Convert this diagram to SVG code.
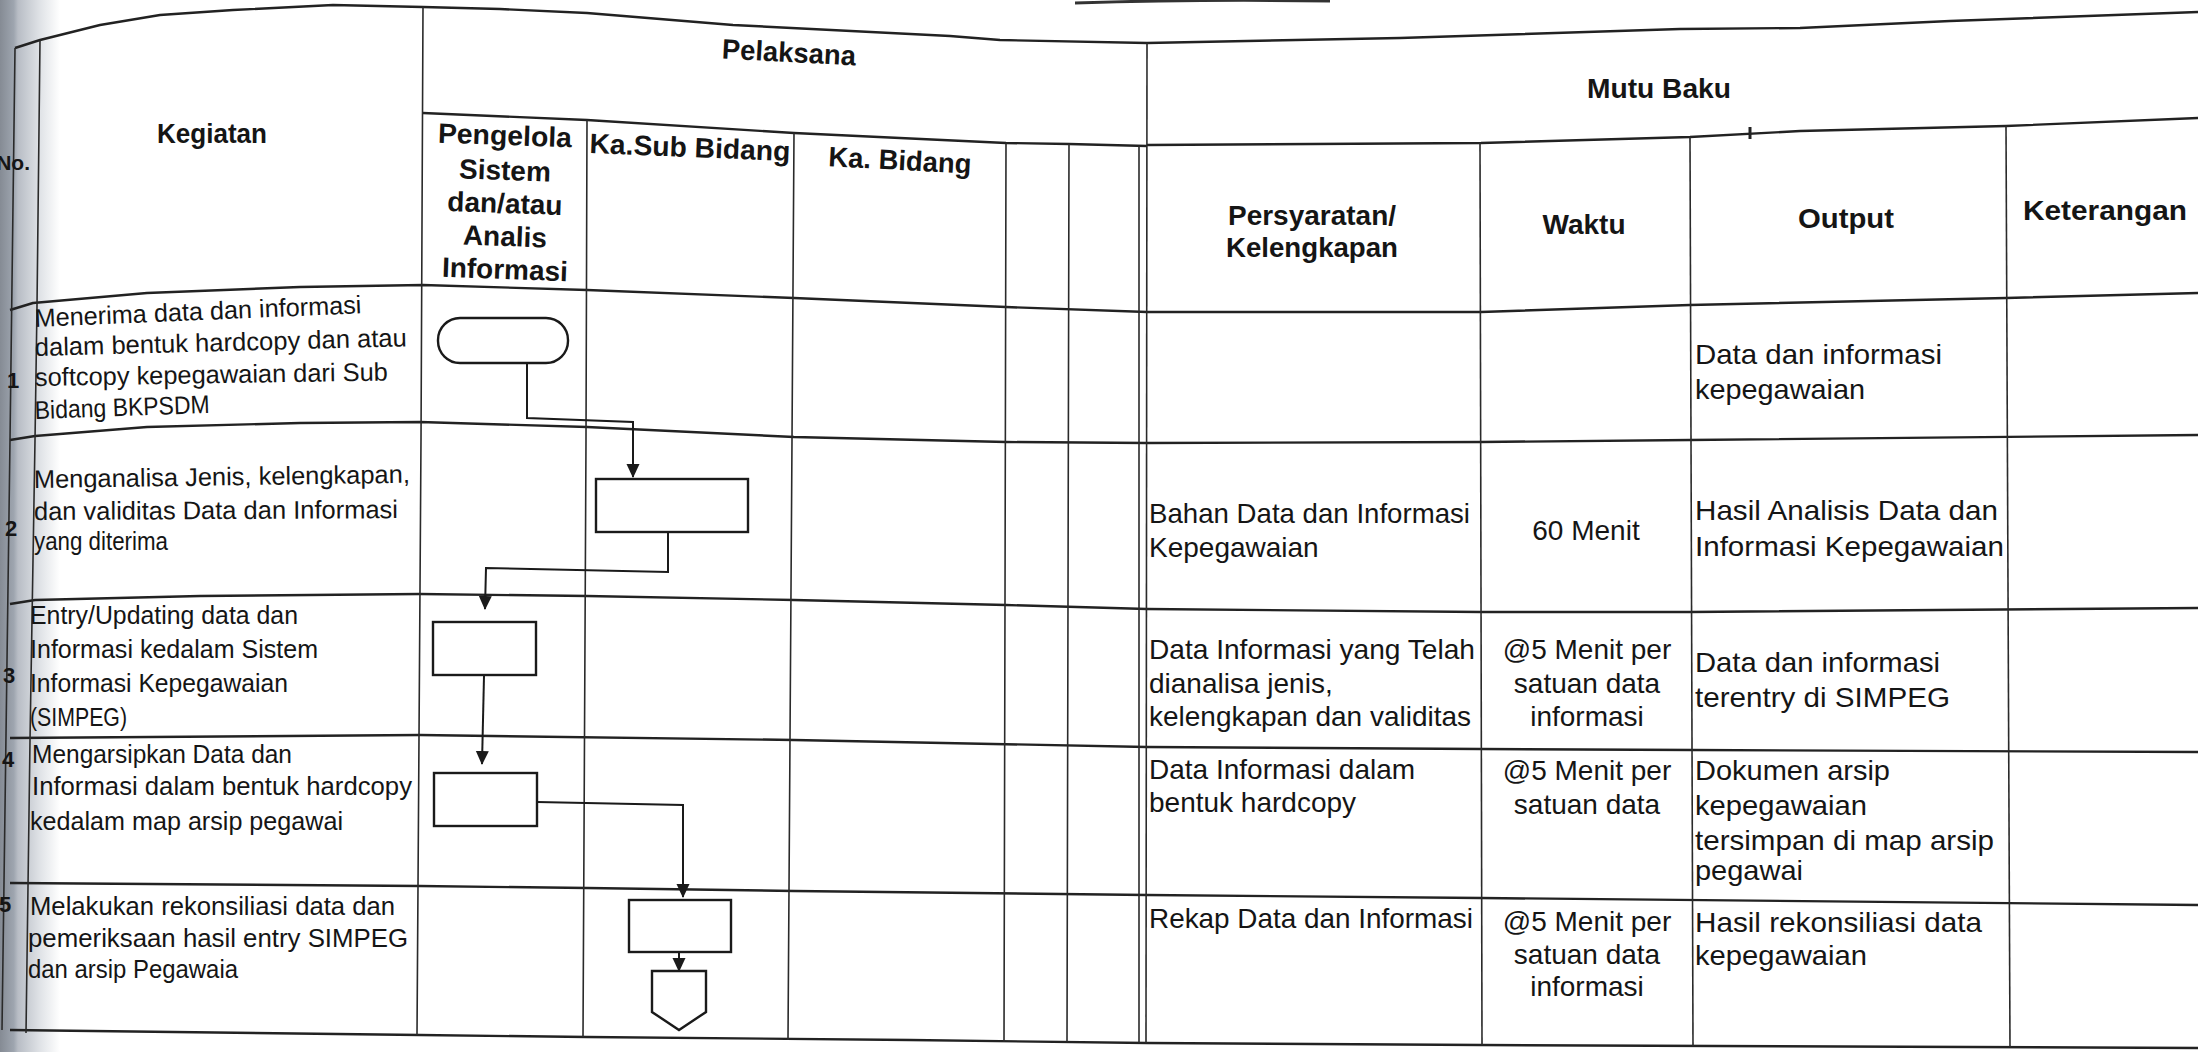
<svg xmlns="http://www.w3.org/2000/svg" width="2198" height="1052" viewBox="0 0 2198 1052">
<style>
.h{fill:none;stroke:#222;stroke-width:2.4;stroke-linejoin:round}
.v{fill:none;stroke:#2a2a2a;stroke-width:1.6;stroke-linejoin:round}
.shape{fill:#fff;stroke:#1a1a1a;stroke-width:2.4}
.conn{fill:none;stroke:#1a1a1a;stroke-width:2;marker-end:url(#ah)}
text{font-family:"Liberation Sans",Arial,sans-serif;fill:#151515}
.k{font-size:25.5px}
.r{font-size:28px}
.c{font-size:28px;text-anchor:middle}
.hd{font-size:28px;font-weight:bold;text-anchor:middle}
.num{font-size:22px;font-weight:bold}
</style>
<defs>
<linearGradient id="band" x1="0" y1="0" x2="60" y2="0" gradientUnits="userSpaceOnUse">
<stop offset="0" stop-color="#858b94"/>
<stop offset="0.23" stop-color="#9ea5af"/>
<stop offset="0.3" stop-color="#b8bdc5"/>
<stop offset="0.66" stop-color="#dfe2e6"/>
<stop offset="1" stop-color="#ffffff"/>
</linearGradient>
<marker id="ah" markerUnits="userSpaceOnUse" viewBox="0 0 14 14" markerWidth="14" markerHeight="14" refX="13" refY="7" orient="auto">
<path d="M0,0.5 L14,7 L0,13.5 z" fill="#1a1a1a"/>
</marker>
</defs>
<rect x="0" y="0" width="2198" height="1052" fill="#ffffff"/>
<rect x="0" y="0" width="60" height="1052" fill="url(#band)"/>
<path d="M1075,3 Q1200,-1 1330,1" fill="none" stroke="#333" stroke-width="3"/>

<g id="table">
<polyline class="h" points="15,48 40,40 100,25 160,15 233,10 333,5 423,7 500,9 587,13 733,25 950,36 1000,40 1147,43 1400,38 1680,29 1800,28 1950,21 2198,12"/>
<polyline class="h" points="423,113 587,120 794,133 1006,143 1069,144 1147,146"/>
<polyline class="h" points="1147,145 1481,143 1690,137 1800,131 2006,126 2198,118"/>
<path d="M1750,127 L1750,139" stroke="#222" stroke-width="3"/>
<polyline class="h" points="10,310 33,303 147,293 300,287 423,285 587,290 794,298 1006,307 1147,312 1481,312 1690,305 2006,298 2198,293"/>
<polyline class="h" points="10,440 35,436 147,427 300,423 420,422 587,427 794,437 1006,442 1147,443 1481,442 1690,440 2198,435"/>
<polyline class="h" points="10,604 35,600 200,596 420,594 587,596 794,600 1006,605 1147,609 1481,612 1690,612 2198,608"/>
<polyline class="h" points="10,738 420,735 794,740 1147,747 1481,749 1693,750 2198,752"/>
<polyline class="h" points="10,883 420,886 587,888 794,891 1147,895 1481,898 2198,905"/>
<polyline class="h" points="10,1030 420,1035 587,1037 910,1040 1147,1043 1481,1045 2198,1048"/>
<polyline class="v" points="15,48 10,440 2,1030"/>
<polyline class="v" points="40,40 37,306 35,440 30,740 26,1033"/>
<polyline class="v" points="423,7 421,440 417,1035"/>
<polyline class="v" points="587,120 586,440 583,1037"/>
<polyline class="v" points="794,133 792,440 788,1040"/>
<polyline class="v" points="1006,143 1005,600 1004,1042"/>
<polyline class="v" points="1069,144 1068,600 1067,1042"/>
<polyline class="v" points="1139,146 1139,1043"/>
<polyline class="v" points="1147,43 1146,1043"/>
<polyline class="v" points="1480,143 1482,1045"/>
<polyline class="v" points="1690,137 1693,1046"/>
<polyline class="v" points="2006,126 2010,1047"/>
</g>

<g id="headers">
<text class="hd" x="30" y="170" style="font-size:21px;text-anchor:end">No.</text>
<text class="hd" x="212" y="143" textLength="110" lengthAdjust="spacingAndGlyphs" style="font-size:27px">Kegiatan</text>
<text class="hd" x="789" y="62" textLength="134" lengthAdjust="spacingAndGlyphs" transform="rotate(3 789 52)">Pelaksana</text>
<text class="hd" x="505" y="145" textLength="134" lengthAdjust="spacingAndGlyphs" transform="rotate(2 505 135)">Pengelola</text>
<text class="hd" x="505" y="180" transform="rotate(2 505 170)">Sistem</text>
<text class="hd" x="505" y="213" transform="rotate(2 505 203)">dan/atau</text>
<text class="hd" x="505" y="246" transform="rotate(2 505 236)">Analis</text>
<text class="hd" x="505" y="279" transform="rotate(2 505 269)">Informasi</text>
<text class="hd" x="690" y="157" textLength="201" lengthAdjust="spacingAndGlyphs" transform="rotate(2.3 690 147)">Ka.Sub Bidang</text>
<text class="hd" x="900" y="170" textLength="143" lengthAdjust="spacingAndGlyphs" transform="rotate(3 900 160)">Ka. Bidang</text>
<text class="hd" x="1659" y="98" textLength="144" lengthAdjust="spacingAndGlyphs">Mutu Baku</text>
<text class="hd" x="1312" y="225" textLength="168" lengthAdjust="spacingAndGlyphs">Persyaratan/</text>
<text class="hd" x="1312" y="257" textLength="172" lengthAdjust="spacingAndGlyphs">Kelengkapan</text>
<text class="hd" x="1584" y="234" textLength="83" lengthAdjust="spacingAndGlyphs">Waktu</text>
<text class="hd" x="1846" y="228" textLength="96" lengthAdjust="spacingAndGlyphs">Output</text>
<text class="hd" x="2105" y="220" textLength="164" lengthAdjust="spacingAndGlyphs">Keterangan</text>
</g>

<g id="numbers">
<text class="num" x="7" y="388">1</text>
<text class="num" x="5" y="536">2</text>
<text class="num" x="3" y="683">3</text>
<text class="num" x="2" y="767">4</text>
<text class="num" x="-1" y="912">5</text>
</g>

<g id="kegiatan">
<text class="k" x="35" y="327" textLength="327" lengthAdjust="spacingAndGlyphs" transform="rotate(-2.4 35 327)">Menerima data dan informasi</text>
<text class="k" x="35" y="356" textLength="372" lengthAdjust="spacingAndGlyphs" transform="rotate(-1.5 35 356)">dalam bentuk hardcopy dan atau</text>
<text class="k" x="35" y="386" textLength="353" lengthAdjust="spacingAndGlyphs" transform="rotate(-0.9 35 386)">softcopy kepegawaian dari Sub</text>
<text class="k" x="35" y="419" textLength="175" lengthAdjust="spacingAndGlyphs" transform="rotate(-2 35 419)">Bidang BKPSDM</text>
<text class="k" x="34" y="488" textLength="376" lengthAdjust="spacingAndGlyphs" transform="rotate(-0.8 34 488)">Menganalisa Jenis, kelengkapan,</text>
<text class="k" x="34" y="520" textLength="364" lengthAdjust="spacingAndGlyphs" transform="rotate(-0.3 34 520)">dan validitas Data dan Informasi</text>
<text class="k" x="34" y="550" textLength="134" lengthAdjust="spacingAndGlyphs">yang diterima</text>
<text class="k" x="30" y="624" textLength="268" lengthAdjust="spacingAndGlyphs">Entry/Updating data dan</text>
<text class="k" x="30" y="658" textLength="288" lengthAdjust="spacingAndGlyphs">Informasi kedalam Sistem</text>
<text class="k" x="30" y="692" textLength="258" lengthAdjust="spacingAndGlyphs">Informasi Kepegawaian</text>
<text class="k" x="30" y="726" textLength="97" lengthAdjust="spacingAndGlyphs">(SIMPEG)</text>
<text class="k" x="32" y="763" textLength="260" lengthAdjust="spacingAndGlyphs">Mengarsipkan Data dan</text>
<text class="k" x="32" y="795" textLength="380" lengthAdjust="spacingAndGlyphs">Informasi dalam bentuk hardcopy</text>
<text class="k" x="30" y="830" textLength="313" lengthAdjust="spacingAndGlyphs">kedalam map arsip pegawai</text>
<text class="k" x="30" y="915" textLength="365" lengthAdjust="spacingAndGlyphs">Melakukan rekonsiliasi data dan</text>
<text class="k" x="28" y="947" textLength="380" lengthAdjust="spacingAndGlyphs">pemeriksaan hasil entry SIMPEG</text>
<text class="k" x="28" y="978" textLength="210" lengthAdjust="spacingAndGlyphs">dan arsip Pegawaia</text>
</g>

<g id="persyaratan">
<text class="r" x="1149" y="523" textLength="321" lengthAdjust="spacingAndGlyphs">Bahan Data dan Informasi</text>
<text class="r" x="1149" y="557">Kepegawaian</text>
<text class="r" x="1149" y="659" textLength="326" lengthAdjust="spacingAndGlyphs">Data Informasi yang Telah</text>
<text class="r" x="1149" y="693">dianalisa jenis,</text>
<text class="r" x="1149" y="726" textLength="322" lengthAdjust="spacingAndGlyphs">kelengkapan dan validitas</text>
<text class="r" x="1149" y="779">Data Informasi dalam</text>
<text class="r" x="1149" y="812">bentuk hardcopy</text>
<text class="r" x="1149" y="928" textLength="324" lengthAdjust="spacingAndGlyphs">Rekap Data dan Informasi</text>
</g>

<g id="waktu">
<text class="c" x="1586" y="540">60 Menit</text>
<text class="c" x="1587" y="659">@5 Menit per</text>
<text class="c" x="1587" y="693">satuan data</text>
<text class="c" x="1587" y="726">informasi</text>
<text class="c" x="1587" y="780">@5 Menit per</text>
<text class="c" x="1587" y="814">satuan data</text>
<text class="c" x="1587" y="931">@5 Menit per</text>
<text class="c" x="1587" y="964">satuan data</text>
<text class="c" x="1587" y="996">informasi</text>
</g>

<g id="output">
<text class="r" x="1695" y="364" textLength="247" lengthAdjust="spacingAndGlyphs">Data dan informasi</text>
<text class="r" x="1695" y="399" textLength="170" lengthAdjust="spacingAndGlyphs">kepegawaian</text>
<text class="r" x="1695" y="520" textLength="303" lengthAdjust="spacingAndGlyphs">Hasil Analisis Data dan</text>
<text class="r" x="1695" y="556" textLength="309" lengthAdjust="spacingAndGlyphs">Informasi Kepegawaian</text>
<text class="r" x="1695" y="672" textLength="245" lengthAdjust="spacingAndGlyphs">Data dan informasi</text>
<text class="r" x="1695" y="707" textLength="255" lengthAdjust="spacingAndGlyphs">terentry di SIMPEG</text>
<text class="r" x="1695" y="780" textLength="195" lengthAdjust="spacingAndGlyphs">Dokumen arsip</text>
<text class="r" x="1695" y="815" textLength="172" lengthAdjust="spacingAndGlyphs">kepegawaian</text>
<text class="r" x="1695" y="850" textLength="299" lengthAdjust="spacingAndGlyphs">tersimpan di map arsip</text>
<text class="r" x="1695" y="880" textLength="108" lengthAdjust="spacingAndGlyphs">pegawai</text>
<text class="r" x="1695" y="932" textLength="287" lengthAdjust="spacingAndGlyphs">Hasil rekonsiliasi data</text>
<text class="r" x="1695" y="965" textLength="172" lengthAdjust="spacingAndGlyphs">kepegawaian</text>
</g>

<g id="connectors">
<path class="conn" d="M527,364 L527,418 L633,422 L633,477"/>
<path class="conn" d="M668,533 L668,572 L486,568 L485,609"/>
<path class="conn" d="M484,676 L482,764"/>
<path class="conn" d="M537,802 L683,805 L683,897"/>
<path class="conn" d="M679,952 L679,971"/>
</g>

<g id="n1-start"><rect class="shape" x="438" y="318" width="130" height="45" rx="22" ry="22"/></g>
<g id="n2-analisa"><rect class="shape" x="596" y="479" width="152" height="53"/></g>
<g id="n3-entry"><rect class="shape" x="433" y="622" width="103" height="53"/></g>
<g id="n4-arsip"><rect class="shape" x="434" y="773" width="103" height="53"/></g>
<g id="n5-rekonsiliasi"><rect class="shape" x="629" y="900" width="102" height="52"/></g>
<g id="n6-offpage"><polygon class="shape" points="652,971 706,971 706,1012 679,1030 652,1012"/></g>
</svg>
